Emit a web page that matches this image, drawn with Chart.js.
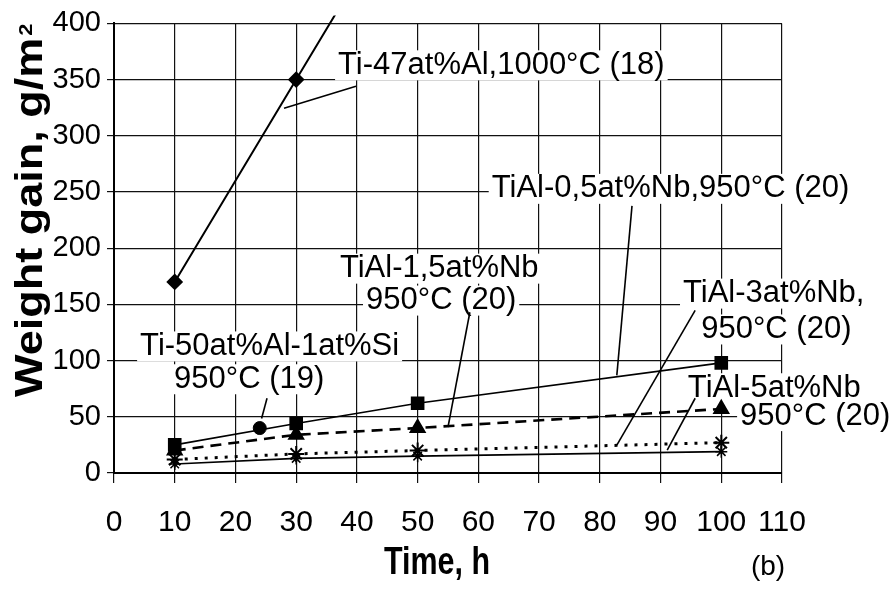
<!DOCTYPE html>
<html>
<head>
<meta charset="utf-8">
<title>Weight gain vs time</title>
<script src="https://cdn.jsdelivr.net/npm/chart.js@4"></script>
<style>
  html, body { margin: 0; padding: 0; background: #fff; }
</style>
</head>
<body>
<canvas id="gainChart" width="891" height="590"></canvas>
<script>
// values (time in h, weight gain in g/m2)
const timeH = [10, 30, 50, 100];
const ti47Time = [10, 30, 50];
const ti47Gain = [170, 350, 530];
const nb05Gain = [25, 44, 62, 98];
const nb15Gain = [20, 34, 40, 57];
const nb3Gain = [12, 17, 20, 27];
const nb5Gain = [8, 13, 15, 19];
const siTime = [24];
const siGain = [40];

const xTickValues = [0, 10, 20, 30, 40, 50, 60, 70, 80, 90, 100, 110];
const yTickValues = [0, 50, 100, 150, 200, 250, 300, 350, 400];

const pts = (xs, ys) => xs.map((x, i) => ({ x: x, y: ys[i] }));

const SANS = "'Liberation Sans', Arial, sans-serif";

Chart.defaults.color = '#000';
Chart.defaults.font.family = SANS;

// labels on the plot: text lines (left edge, middle) and leader lines, in data units
const noteLines = [
  { text: 'Ti-47at%Al,1000°C (18)', x: 36.9, y: 362.7 },
  { text: 'TiAl-0,5at%Nb,950°C (20)', x: 62.2, y: 252.8 },
  { text: 'TiAl-1,5at%Nb', x: 37.2, y: 181.8 },
  { text: '950°C (20)', x: 41.5, y: 153.4 },
  { text: 'TiAl-3at%Nb,', x: 93.7, y: 159.6 },
  { text: '950°C (20)', x: 96.7, y: 127.7 },
  { text: 'Ti-50at%Al-1at%Si', x: 4.3, y: 112.6 },
  { text: '950°C (19)', x: 9.9, y: 83.4 },
  { text: 'TiAl-5at%Nb', x: 94.5, y: 75.4 },
  { text: '950°C (20)', x: 103.1, y: 50.6 }
];
const leaders = [
  [39.85, 344, 28, 324.6],
  [85.3, 237.7, 82.8, 86.9],
  [58.6, 143, 55, 40.8],
  [95.7, 144.6, 82.8, 24.8],
  [25.2, 66.5, 24.3, 48.5],
  [95.7, 66.5, 91.1, 20.4]
];

const notesPlugin = {
  id: 'notes',
  beforeDatasetsDraw(chart) {
    const { ctx, scales: { x, y } } = chart;
    ctx.save();
    ctx.font = '31px ' + SANS;
    ctx.fillStyle = '#fff';
    noteLines.forEach(n => {
      const w = ctx.measureText(n.text).width;
      ctx.fillRect(x.getPixelForValue(n.x) - 3, y.getPixelForValue(n.y) - 15, w + 6, 30);
    });
    ctx.restore();
  },
  afterDraw(chart) {
    const { ctx, scales: { x, y } } = chart;
    ctx.save();
    ctx.fillStyle = '#000';
    ctx.strokeStyle = '#000';
    ctx.font = '31px ' + SANS;
    ctx.textAlign = 'left';
    ctx.textBaseline = 'middle';
    noteLines.forEach(n => {
      ctx.fillText(n.text, x.getPixelForValue(n.x), y.getPixelForValue(n.y));
    });
    ctx.lineWidth = 1.6;
    leaders.forEach(l => {
      ctx.beginPath();
      ctx.moveTo(x.getPixelForValue(l[0]), y.getPixelForValue(l[1]));
      ctx.lineTo(x.getPixelForValue(l[2]), y.getPixelForValue(l[3]));
      ctx.stroke();
    });
    ctx.restore();

    // y axis title with a real superscript
    ctx.save();
    ctx.fillStyle = '#000';
    ctx.translate(42, 397);
    ctx.rotate(-Math.PI / 2);
    ctx.scale(1, 0.87);
    ctx.textBaseline = 'alphabetic';
    ctx.font = 'bold 45px ' + SANS;
    const main = 'Weight gain, g/m';
    ctx.fillText(main, 0, 0);
    const w = ctx.measureText(main).width;
    ctx.font = 'bold 22px ' + SANS;
    ctx.fillText('2', w + 2, -11);
    ctx.restore();

    // x axis title, condensed like the original print
    ctx.save();
    ctx.fillStyle = '#000';
    ctx.translate(437, 563);
    ctx.scale(0.78, 1);
    ctx.font = 'bold 39px ' + SANS;
    ctx.textAlign = 'center';
    ctx.textBaseline = 'middle';
    ctx.fillText('Time, h', 0, 0);
    ctx.restore();

    ctx.save();
    ctx.font = '28px ' + SANS;
    ctx.fillStyle = '#000';
    ctx.textAlign = 'center';
    ctx.textBaseline = 'middle';
    ctx.fillText('(b)', 768, 567);
    ctx.restore();
  }
};

const ctx = document.getElementById('gainChart');

new Chart(ctx, {
  type: 'scatter',
  data: {
    datasets: [{
      label: 'Ti-47at%Al,1000°C (18)',
      data: pts(ti47Time, ti47Gain),
      showLine: true,
      borderColor: '#000',
      backgroundColor: '#000',
      borderWidth: 2,
      pointStyle: 'rectRot',
      pointRadius: 7,
      clip: { left: 0, top: 8, right: 0, bottom: 0 }
    }, {
      label: 'TiAl-0,5at%Nb,950°C (20)',
      data: pts(timeH, nb05Gain),
      showLine: true,
      borderColor: '#000',
      backgroundColor: '#000',
      borderWidth: 1.6,
      pointStyle: 'rect',
      pointRadius: 8.5
    }, {
      label: 'TiAl-1,5at%Nb 950°C (20)',
      data: pts(timeH, nb15Gain),
      showLine: true,
      borderColor: '#000',
      backgroundColor: '#000',
      borderWidth: 2.6,
      borderDash: [11, 7],
      pointStyle: 'triangle',
      pointRadius: 7.5
    }, {
      label: 'TiAl-3at%Nb, 950°C (20)',
      data: pts(timeH, nb3Gain),
      showLine: true,
      borderColor: '#000',
      backgroundColor: '#000',
      borderWidth: 3,
      borderDash: [3, 7],
      pointStyle: 'star',
      pointRadius: 8,
      pointBorderWidth: 2
    }, {
      label: 'TiAl-5at%Nb 950°C (20)',
      data: pts(timeH, nb5Gain),
      showLine: true,
      borderColor: '#000',
      backgroundColor: '#000',
      borderWidth: 1.6,
      pointStyle: 'star',
      pointRadius: 6,
      pointBorderWidth: 1.5
    }, {
      label: 'Ti-50at%Al-1at%Si 950°C (19)',
      data: pts(siTime, siGain),
      showLine: false,
      borderColor: '#000',
      backgroundColor: '#000',
      pointStyle: 'circle',
      pointRadius: 6.5
    }]
  },
  options: {
    responsive: false,
    animation: false,
    layout: { padding: { top: 22, right: 109, bottom: 0, left: 0 } },
    plugins: {
      legend: { display: false },
      tooltip: { enabled: false }
    },
    scales: {
      x: {
        type: 'linear',
        min: 0,
        max: 110,
        afterBuildTicks: s => { s.ticks = xTickValues.map(v => ({ value: v })); },
        afterFit: s => { s.height = 117; },
        ticks: { font: { size: 30 }, padding: 22, maxRotation: 0 },
        grid: { color: '#111', lineWidth: 1.2, tickLength: 10 },
        border: { color: '#000', width: 2 }
      },
      y: {
        min: 0,
        max: 400,
        afterBuildTicks: s => { s.ticks = yTickValues.map(v => ({ value: v })); },
        afterFit: s => { s.width = 114; },
        ticks: { font: { size: 29 }, padding: 6 },
        grid: { color: '#111', lineWidth: 1.2, tickLength: 7 },
        border: { color: '#000', width: 2 }
      }
    }
  },
  plugins: [notesPlugin]
});
</script>
</body>
</html>
